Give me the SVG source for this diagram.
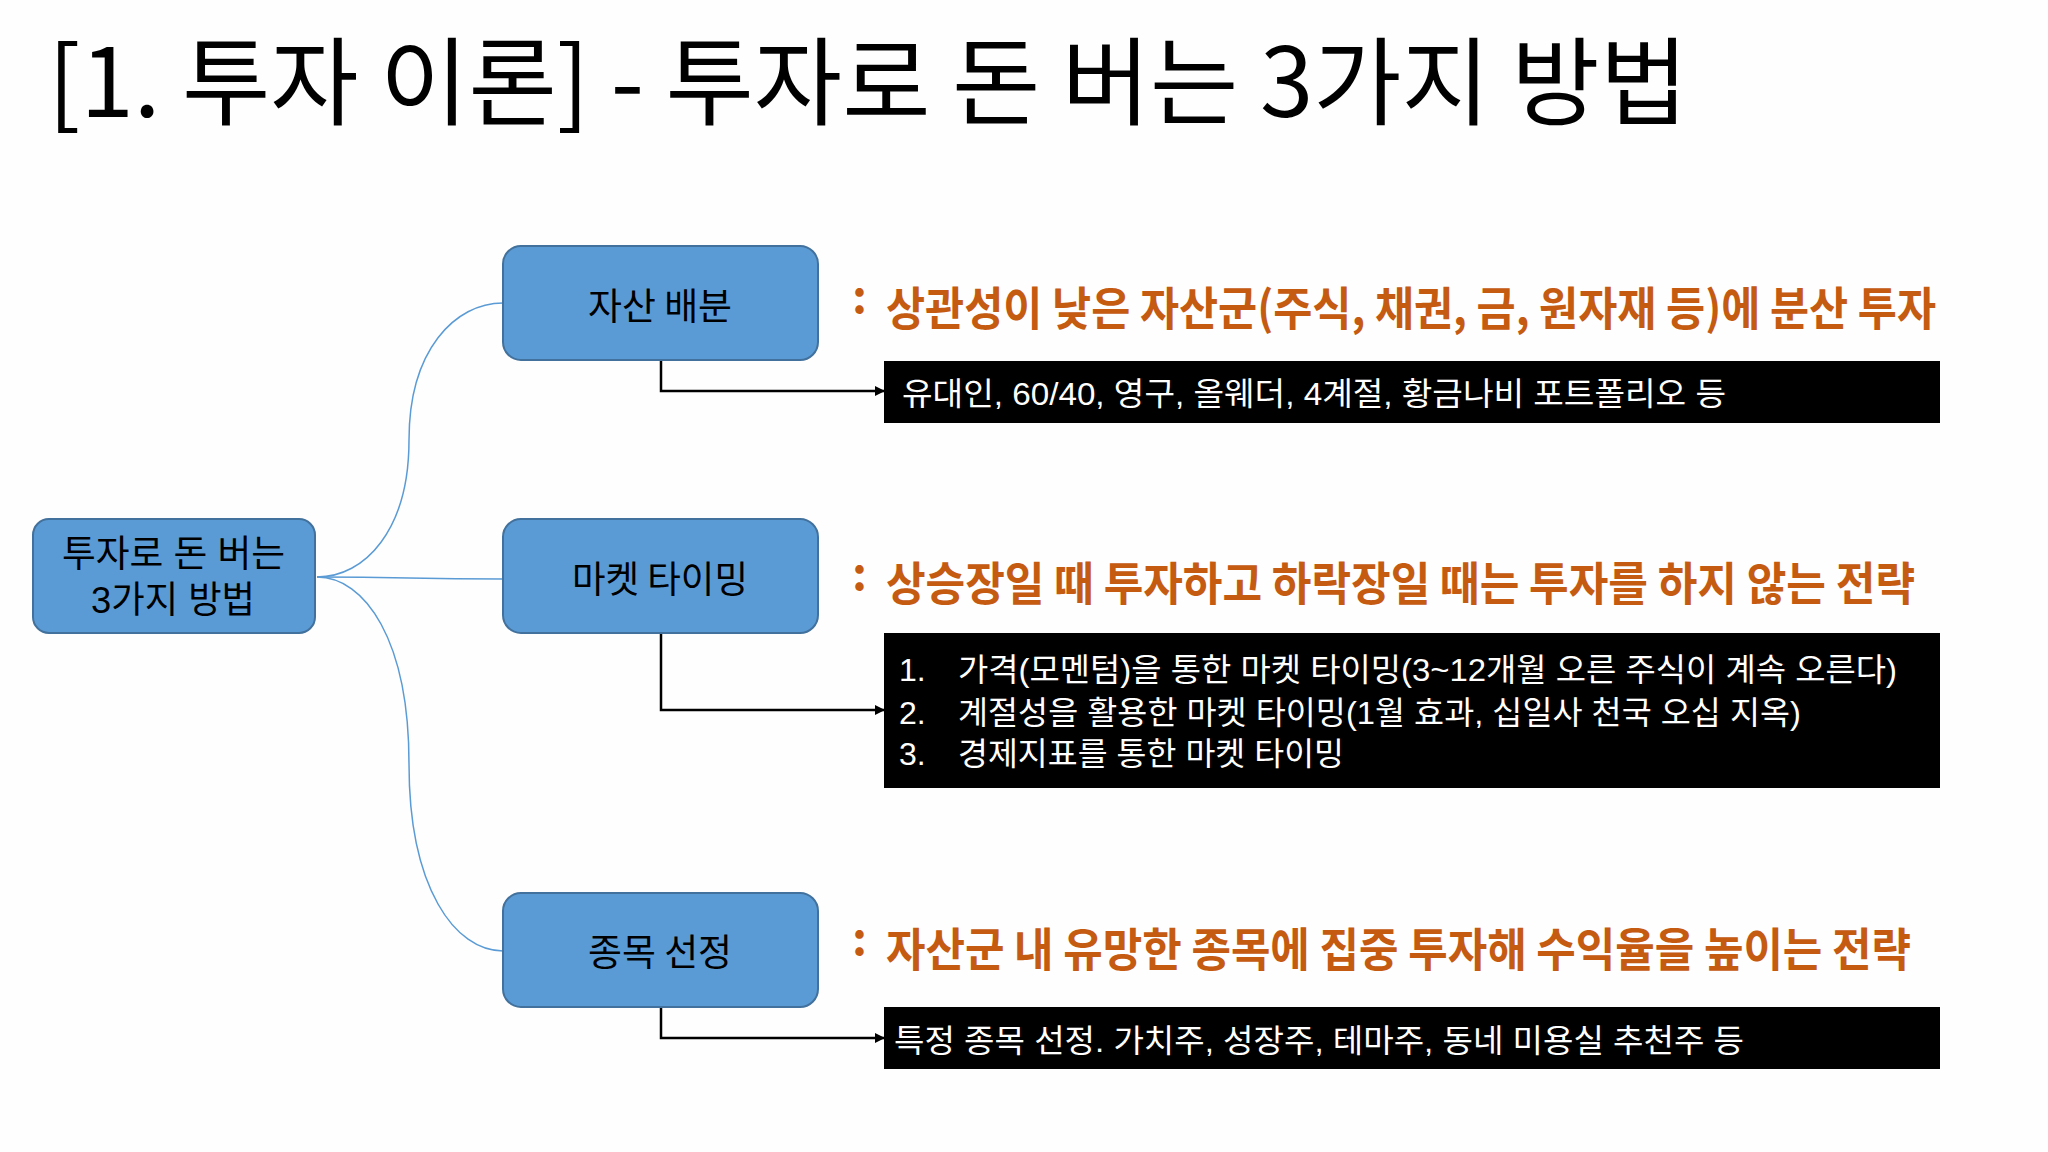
<svg xmlns="http://www.w3.org/2000/svg" width="2048" height="1152" viewBox="0 0 2048 1152">
<defs>
<style>
.kr{font-family:"Noto Sans CJK KR","Noto Sans",sans-serif;}
.kl{font-family:"Liberation Sans","Noto Sans CJK KR",sans-serif;}
.node rect{fill:#5B9BD5;stroke:#41719C;stroke-width:2;}
.ntext{font-size:37px;fill:#000;}
.btext{font-size:32px;fill:#fff;}
.otext{font-size:46px;fill:#C55A11;font-weight:bold;}
.blue{fill:none;stroke:#5B9BD5;stroke-width:1.5;}
.blk{fill:none;stroke:#000;stroke-width:2.5;marker-end:url(#arr);}
</style>
<marker id="arr" viewBox="0 0 10 10" refX="9" refY="5" markerWidth="4" markerHeight="4" orient="auto" markerUnits="strokeWidth">
<path d="M0,0 L10,5 L0,10 z" fill="#000"/>
</marker>
</defs>
<rect x="0" y="0" width="2048" height="1152" fill="#FEFEFE"/>
<text class="kr" x="48" y="117" font-size="96" fill="#000" textLength="1640" lengthAdjust="spacingAndGlyphs">[1. 투자 이론] - 투자로 돈 버는 3가지 방법</text>

<g id="connectors">
<path class="blue" d="M317,577 C365,577 409,530 409,440 C409,350 455,303 503,303"/>
<path class="blue" d="M317,577 C409,577 409,579 503,579"/>
<path class="blue" d="M317,577 C365,577 409,640 409,764 C409,888 455,951 503,951"/>
<path class="blk" d="M661,360 L661,391 L884,391"/>
<path class="blk" d="M661,633 L661,710 L884,710"/>
<path class="blk" d="M661,1007 L661,1038 L884,1038"/>
</g>

<g id="root" class="node">
<rect x="33" y="519" width="282" height="114" rx="16"/>
<text class="kl ntext" x="62" y="567" textLength="223" lengthAdjust="spacingAndGlyphs">투자로 돈 버는</text>
<text class="kl ntext" x="91" y="613" textLength="164" lengthAdjust="spacingAndGlyphs">3가지 방법</text>
</g>

<g id="asset" class="node">
<rect x="503" y="246" width="315" height="114" rx="18"/>
<text class="kr ntext" x="588" y="320" textLength="144" lengthAdjust="spacingAndGlyphs">자산 배분</text>
</g>

<g id="timing" class="node">
<rect x="503" y="519" width="315" height="114" rx="18"/>
<text class="kr ntext" x="572" y="593" textLength="176" lengthAdjust="spacingAndGlyphs">마켓 타이밍</text>
</g>

<g id="stock" class="node">
<rect x="503" y="893" width="315" height="114" rx="18"/>
<text class="kr ntext" x="588" y="966" textLength="144" lengthAdjust="spacingAndGlyphs">종목 선정</text>
</g>

<g id="asset-desc">
<text class="kr otext" x="852" y="313" font-size="50">:</text>
<text class="kr otext" x="886" y="325" textLength="1050" lengthAdjust="spacingAndGlyphs">상관성이 낮은 자산군(주식, 채권, 금, 원자재 등)에 분산 투자</text>
</g>
<g id="asset-detail">
<rect x="884" y="361" width="1056" height="62" fill="#000"/>
<text class="kl btext" x="902" y="405" textLength="824" lengthAdjust="spacingAndGlyphs">유대인, 60/40, 영구, 올웨더, 4계절, 황금나비 포트폴리오 등</text>
</g>

<g id="timing-desc">
<text class="kr otext" x="852" y="590" font-size="50">:</text>
<text class="kr otext" x="886" y="600" textLength="1029" lengthAdjust="spacingAndGlyphs">상승장일 때 투자하고 하락장일 때는 투자를 하지 않는 전략</text>
</g>
<g id="timing-detail">
<rect x="884" y="633" width="1056" height="155" fill="#000"/>
<text class="kl btext" x="899" y="681">1.</text>
<text class="kl btext" x="958" y="681" textLength="939" lengthAdjust="spacingAndGlyphs">가격(모멘텀)을 통한 마켓 타이밍(3~12개월 오른  주식이 계속 오른다)</text>
<text class="kl btext" x="899" y="724">2.</text>
<text class="kl btext" x="958" y="724" textLength="843" lengthAdjust="spacingAndGlyphs">계절성을 활용한 마켓 타이밍(1월 효과, 십일사 천국 오십 지옥)</text>
<text class="kl btext" x="899" y="765">3.</text>
<text class="kl btext" x="958" y="765" textLength="386" lengthAdjust="spacingAndGlyphs">경제지표를 통한 마켓 타이밍</text>
</g>

<g id="stock-desc">
<text class="kr otext" x="852" y="955" font-size="50">:</text>
<text class="kr otext" x="886" y="966" textLength="1025" lengthAdjust="spacingAndGlyphs">자산군 내 유망한 종목에 집중 투자해 수익율을 높이는 전략</text>
</g>
<g id="stock-detail">
<rect x="884" y="1007" width="1056" height="62" fill="#000"/>
<text class="kl btext" x="894" y="1052" textLength="850" lengthAdjust="spacingAndGlyphs">특정 종목 선정. 가치주, 성장주, 테마주, 동네 미용실 추천주 등</text>
</g>
</svg>
